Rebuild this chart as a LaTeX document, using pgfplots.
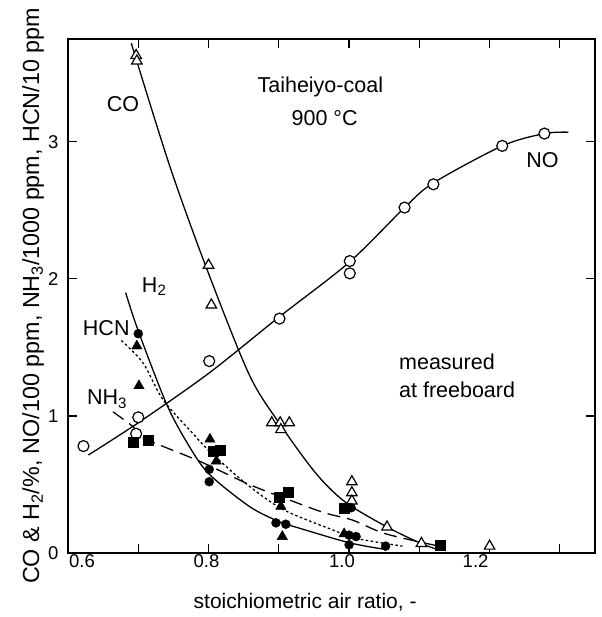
\documentclass[border=0pt]{standalone}
\usepackage{fontspec}
\setmainfont{Liberation Sans}
\usepackage{pgfplots}
\pgfplotsset{compat=1.18}
\begin{document}
\begin{tikzpicture}
\useasboundingbox (-68pt,-64pt) rectangle (533pt,553pt);
\begin{axis}[
  at={(0,0)}, anchor=south west,
  scale only axis, width=527pt, height=514pt,
  xmin=0.6, xmax=1.35, ymin=0, ymax=3.75,
  xtick={0.6,0.8,1.0,1.2},
  xticklabels={\hspace*{28pt}0.6, 0.8\hspace*{4pt}, 1.0\hspace*{14pt}, 1.2\hspace*{28pt}},
  minor xtick={0.7,0.9,1.1,1.3},
  ytick={0,1,2,3}, yticklabels={0,1,2,3},
  tick align=inside,
  major tick length=9pt, minor tick length=9pt,
  every tick/.style={line width=1.2pt, black},
  axis line style={line width=1.4pt},
  ticklabel style={font=\fontsize{18.5}{22}\selectfont},
  /pgf/number format/assume math mode=true,
  xticklabel style={inner sep=1pt},
  yticklabel style={xshift=-6pt},
  label style={font=\fontsize{21}{25}\selectfont},
  xlabel={stoichiometric air ratio, -},
  ylabel={CO \& H\textsubscript{2}/\%, NO/100 ppm, NH\textsubscript{3}/1000 ppm, HCN/10 ppm},
  xlabel style={at={(axis description cs:0.45,-0.095)}, anchor=center},
  ylabel style={at={(axis description cs:-0.066,0.5)}, anchor=center, font=\fontsize{23.3}{27}\selectfont},
]
% NO curve
\addplot[smooth, tension=0.5, line width=1.3pt, no marks] coordinates {
(0.629,0.715) (0.70,0.95) (0.80,1.31) (0.90,1.72) (1.0,2.12) (1.079,2.52) (1.12,2.70) (1.218,2.97) (1.278,3.06) (1.312,3.07)};
% CO curve
\addplot[smooth, tension=0.5, line width=1.3pt, no marks] coordinates {
(0.69,3.72) (0.745,2.82) (0.797,2.08) (0.858,1.30) (0.903,0.93) (0.953,0.58) (0.995,0.37) (1.054,0.19) (1.104,0.066) (1.13,0.02)};
% H2 curve
\addplot[smooth, tension=0.5, line width=1.3pt, no marks] coordinates {
(0.682,1.90) (0.70,1.62) (0.74,1.09) (0.77,0.80) (0.80,0.58) (0.858,0.34) (0.90,0.23) (0.93,0.18) (1.0,0.075) (1.047,0.03)};
% HCN curve (dotted)
\addplot[smooth, tension=0.5, line width=1.3pt, no marks, dash pattern=on 2.5pt off 2.5pt] coordinates {
(0.676,1.55) (0.707,1.385) (0.735,1.12) (0.778,0.87) (0.80,0.75) (0.85,0.52) (0.905,0.32) (0.976,0.17) (1.01,0.107) (1.076,0.05)};
% NH3 curve (dashed)
\addplot[smooth, tension=0.5, line width=1.3pt, no marks, dash pattern=on 13pt off 7pt] coordinates {
(0.664,1.03) (0.693,0.92) (0.707,0.84) (0.787,0.67) (0.858,0.50) (0.929,0.36) (0.967,0.29) (1.005,0.24) (1.052,0.14) (1.128,0.05)};
% NO data
\addplot[only marks, mark=*, mark size=5.5pt, mark options={fill=white, draw=black, line width=1.2pt}] coordinates {
(0.622,0.78) (0.697,0.87) (0.70,0.99) (0.801,1.40) (0.901,1.71) (1.001,2.04) (1.001,2.13) (1.079,2.52) (1.12,2.69) (1.218,2.97) (1.278,3.06)};
% CO data
\addplot[only marks, mark=triangle*, mark size=6pt, mark options={fill=white, draw=black, line width=1.2pt}] coordinates {
(0.697,3.63) (0.698,3.59) (0.80,2.10) (0.804,1.81) (0.89,0.95) (0.902,0.95) (0.915,0.95) (0.903,0.90) (1.004,0.52) (1.004,0.44) (1.004,0.38) (1.054,0.19) (1.103,0.07) (1.2,0.05)};
% H2 data
\addplot[only marks, mark=*, mark size=4.5pt, mark options={fill=black, draw=black}] coordinates {
(0.70,1.60) (0.801,0.61) (0.801,0.52) (0.896,0.22) (0.91,0.21) (1.003,0.33) (1.0,0.13) (1.01,0.12) (1.0,0.06) (1.052,0.05)};
% HCN data
\addplot[only marks, mark=triangle*, mark size=6pt, mark options={fill=black, draw=black}] coordinates {
(0.698,1.51) (0.701,1.22) (0.802,0.83) (0.811,0.67) (0.903,0.34) (0.905,0.12) (0.993,0.14)};
% NH3 data
\addplot[only marks, mark=square*, mark size=5pt, mark options={fill=black, draw=black}] coordinates {
(0.693,0.81) (0.714,0.82) (0.806,0.74) (0.816,0.75) (0.90,0.41) (0.913,0.44) (0.993,0.33) (1.13,0.06)};
% labels
\node[anchor=base west, font=\fontsize{21.5}{25}\selectfont, inner sep=0pt] at (axis cs:0.8695,3.358) {Taiheiyo-coal};
\node[anchor=base west, font=\fontsize{21.5}{25}\selectfont, inner sep=0pt] at (axis cs:0.918,3.117) {900 °C};
\node[anchor=base west, font=\fontsize{21.5}{25}\selectfont, inner sep=0pt] at (axis cs:0.655,3.22) {CO};
\node[anchor=base west, font=\fontsize{21.5}{25}\selectfont, inner sep=0pt] at (axis cs:0.705,1.90) {H\textsubscript{2}};
\node[anchor=base west, font=\fontsize{21.5}{25}\selectfont, inner sep=0pt] at (axis cs:0.621,1.59) {HCN};
\node[anchor=base west, font=\fontsize{21.5}{25}\selectfont, inner sep=0pt] at (axis cs:0.627,1.08) {NH\textsubscript{3}};
\node[anchor=base west, font=\fontsize{21.5}{25}\selectfont, inner sep=0pt] at (axis cs:1.252,2.81) {NO};
\node[anchor=base west, font=\fontsize{21.5}{25}\selectfont, inner sep=0pt] at (axis cs:1.071,1.336) {measured};
\node[anchor=base west, font=\fontsize{21.5}{25}\selectfont, inner sep=0pt] at (axis cs:1.071,1.131) {at freeboard};
\end{axis}
\end{tikzpicture}
\end{document}
